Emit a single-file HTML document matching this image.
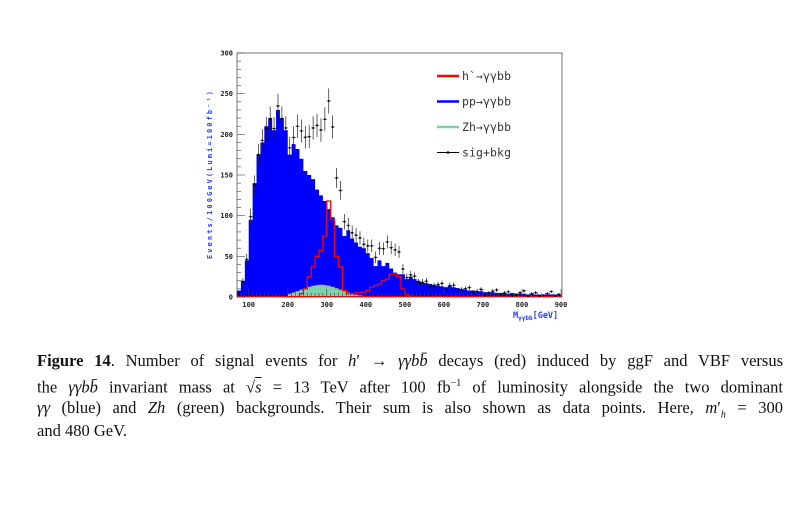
<!DOCTYPE html>
<html><head><meta charset="utf-8"><style>
body{margin:0;background:#fff;width:800px;height:527px;overflow:hidden;position:relative;font-family:"Liberation Serif",serif}
#cap{position:absolute;left:37px;top:349px;width:746px;font-size:16.5px;line-height:23.3px;color:#111}
#cap div{text-align:justify;text-align-last:justify;white-space:nowrap;height:23.3px}
#cap div.l{text-align-last:left}
</style></head><body>
<svg id="s" width="800" height="340" style="position:absolute;left:0;top:0" font-family="DejaVu Sans Mono, Liberation Mono, monospace"></svg>
<div id="cap">
<div><b>Figure 14</b>. Number of signal events for <i>h</i>′ → <i>γγbb̄</i> decays (red) induced by ggF and VBF versus</div>
<div>the <i>γγbb̄</i> invariant mass at √<span style="text-decoration:overline"><i>s</i></span> = 13 TeV after 100 fb<sup style="font-size:10px">−1</sup> of luminosity alongside the two dominant</div>
<div><i>γγ</i> (blue) and <i>Zh</i> (green) backgrounds. Their sum is also shown as data points. Here, <i>m</i>′<sub style="font-size:10px"><i>h</i></sub> = 300</div>
<div class="l">and 480 GeV.</div>
</div>
<script>
const X=v=>237+(v-70)*0.3904, Y=v=>297-v*0.8133;
const blue=[8,20,45,95,140,175,190,210,220,205,230,220,205,175,188,182,170,155,150,145,132,125,118,108,98,88,85,75,82,72,67,62,60,54,48,38,45,38,42,35,30,28,28,22,25,22,20,18,17,16,15,14,13,12,14,12,11,10,9,8,8,7,7,6,6,6,5,5,5,4,5,4,4,4,3,4,3,3,3,3,3,3,3];
const red={200:2,210:6,220:10,230:12,240:15,250:25,260:37,270:50,280:57,290:75,300:118,310:95,320:50,330:37,340:8,350:4,360:4,370:5,380:5,390:6,400:8,410:12,420:14,430:16,440:20,450:22,460:28,470:28,480:25,490:10,500:3,510:1};
function gr(c){return Math.max(0,15*Math.exp(-Math.pow((c-285)/70,2)))}
let s='';
s+='<rect x="237" y="53" width="325" height="244" fill="none" stroke="#555" stroke-width="0.8"/>';
let p='M'+X(70)+' '+Y(0);
blue.forEach((v,i)=>{let a=70+i*10;p+=' L'+X(a)+' '+Y(v)+' L'+X(a+10)+' '+Y(v);});
p+=' L'+X(900)+' '+Y(0)+'Z';
s+='<path d="'+p+'" fill="#0000ff"/>';
p='M'+X(200)+' '+Y(0);
for(let a=200;a<460;a+=10){let v=gr(a+5);p+=' L'+X(a)+' '+Y(v)+' L'+X(a+10)+' '+Y(v);}
p+=' L'+X(460)+' '+Y(0)+'Z';
s+='<path d="'+p+'" fill="#7fcfa8" stroke="#c05050" stroke-width="0.4"/>';
const redDraw={230:4,240:10,250:25,260:37,270:50,280:57,290:75,300:118,310:95,320:50,330:37,340:8,350:4,360:4,370:5,380:5,390:6,400:8,410:12,420:14,430:16,440:20,450:22,460:28,470:28,480:25,490:10,500:3,510:1};
p='M'+X(230)+' '+Y(0);
for(let a=230;a<=510;a+=10){let v=redDraw[a]||0;p+=' L'+X(a)+' '+Y(v)+' L'+X(a+10)+' '+Y(v);}
p+=' L'+X(520)+' '+Y(0);
s+='<path d="'+p+'" fill="none" stroke="#ff0000" stroke-width="1.3"/>';
s+='<line x1="'+X(70)+'" y1="'+(Y(0)-0.5)+'" x2="'+X(900)+'" y2="'+(Y(0)-0.5)+'" stroke="#f00" stroke-width="1"/>';
blue.forEach((v,i)=>{let a=70+i*10,c=a+5;let t=v+(red[a]||0)+gr(c);if(a>=220&&a<300)t+=12;let e=Math.sqrt(t);
let jit=((i*37)%7-3)*1.2;t=Math.max(1,t+jit);
s+='<line x1="'+X(c)+'" x2="'+X(c)+'" y1="'+Y(t+e)+'" y2="'+Y(Math.max(0,t-e))+'" stroke="#222" stroke-width="0.7"/>';
s+='<line x1="'+X(a)+'" x2="'+X(a+10)+'" y1="'+Y(t)+'" y2="'+Y(t)+'" stroke="#222" stroke-width="0.7"/>';
s+='<circle cx="'+X(c)+'" cy="'+Y(t)+'" r="1" fill="#000"/>';});
for(let v=0;v<=300;v+=10){let L=v%50==0?8:4;s+='<line x1="237" x2="'+(237+L)+'" y1="'+Y(v)+'" y2="'+Y(v)+'" stroke="#444" stroke-width="0.6"/>';}
for(let v=0;v<=300;v+=50)s+='<text x="233" y="'+(Y(v)+2.5)+'" font-size="7" text-anchor="end" font-weight="bold" fill="#222">'+v+'</text>';
for(let v=70;v<=900;v+=10){let L=v%100==0?8:4;s+='<line x1="'+X(v)+'" x2="'+X(v)+'" y1="297" y2="'+(297-L)+'" stroke="#444" stroke-width="0.6"/>';}
for(let v=100;v<=900;v+=100)s+='<text x="'+X(v)+'" y="307" font-size="7" text-anchor="middle" font-weight="bold" fill="#222">'+v+'</text>';
s+='<text x="513" y="318" font-size="8.5" font-weight="bold" fill="#2040ff">M<tspan font-size="6" dy="2">γγbb</tspan><tspan dy="-2">[GeV]</tspan></text>';
s+='<text transform="translate(212,175) rotate(-90)" font-size="7" font-weight="bold" text-anchor="middle" fill="#2040ff" textLength="168" lengthAdjust="spacing">Events/100GeV(Lumi=100fb⁻¹)</text>';
const lg=[['#ff0000','h`→γγbb'],['#0000ff','pp→γγbb'],['#7fcfa8','Zh→γγbb'],['#000','sig+bkg']];
lg.forEach((l,i)=>{let y=76+i*25.5;s+='<line x1="437" x2="459" y1="'+y+'" y2="'+y+'" stroke="'+l[0]+'" stroke-width="'+(i==3?1:2.5)+'"/>';
if(i==3)s+='<circle cx="448" cy="'+y+'" r="1.3"/>';
s+='<text x="462" y="'+(y+4)+'" font-size="11.5" fill="#333" textLength="'+(l[1].length*7)+'">'+l[1]+'</text>';});
document.getElementById('s').innerHTML=s;
</script>
</body></html>
